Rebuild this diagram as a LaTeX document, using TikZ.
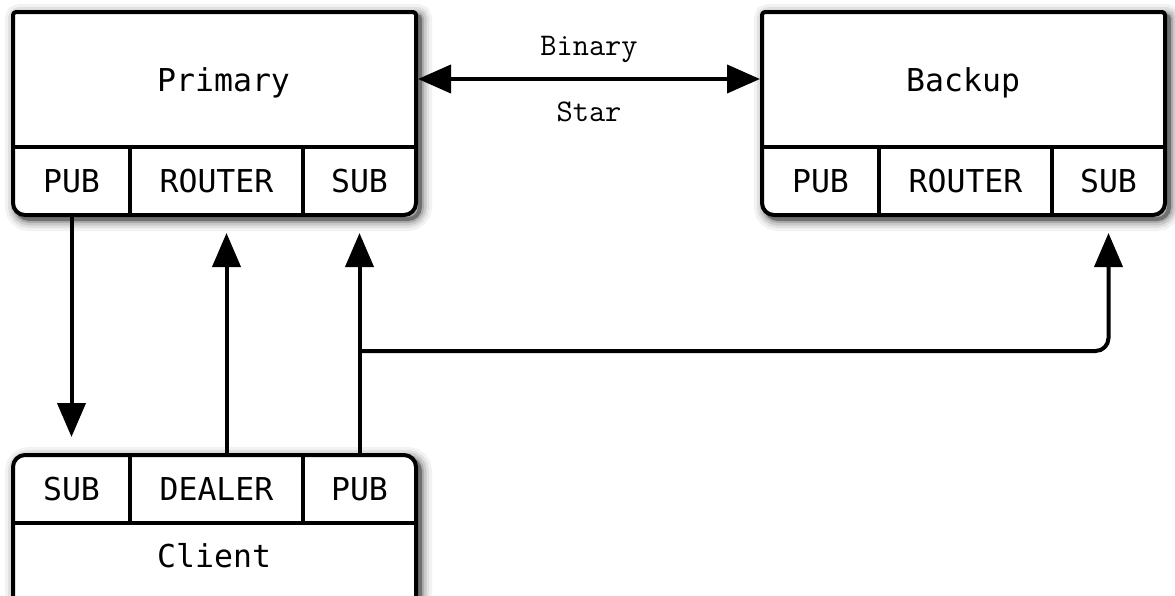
\documentclass[tikz,border=0pt]{standalone}
\usepackage{fontspec}
\newfontfamily\boxfont{DejaVu Sans Mono}
\usetikzlibrary{arrows.meta}
\begin{document}
\begin{tikzpicture}[x=1pt,y=-1pt,
  cell/.style={inner sep=0pt, outer sep=0pt, font=\boxfont\fontsize{31.5}{36}\selectfont, text height=23pt, text depth=0pt},
  mainlbl/.style={inner sep=0pt, font=\boxfont\fontsize{31.5}{36}\selectfont, text height=23pt, text depth=0pt, anchor=west},
  lbl/.style={inner sep=0pt, font=\ttfamily\fontsize{31.5}{36}\selectfont, text height=18pt, text depth=0pt},
  arr/.style={line width=4pt, -{Triangle[length=34pt,width=28pt]}},
  border/.style={line width=4pt, line join=round}]
\useasboundingbox (0,0) rectangle (1175,595);
\clip (0,0) rectangle (1175,595);
\def\boxpathA{(13,100) [rounded corners=3pt] -- (13,12) -- (416,12) -- (416,100) [rounded corners=12pt] -- (416,215) -- (13,215) -- cycle}
\def\boxpathB{(762,100) [rounded corners=3pt] -- (762,12) -- (1165,12) -- (1165,100) [rounded corners=12pt] -- (1165,215) -- (762,215) -- cycle}
\def\boxpathC{(13,640) [rounded corners=12pt] -- (13,455) -- (416,455) -- (416,640) -- cycle}
% shadows
\foreach \w/\o in {24/0.05,18/0.07,13/0.1,8/0.15,4/0.35}{
  \draw[line width=\w pt, opacity=\o, shift={(4,4)}] \boxpathA;
  \draw[line width=\w pt, opacity=\o, shift={(4,4)}] \boxpathB;
  \draw[line width=\w pt, opacity=\o, shift={(4,4)}] \boxpathC;
}
\fill[white] \boxpathA;
\fill[white] \boxpathB;
\fill[white] \boxpathC;
% Primary
\node[mainlbl] (pmain) at (157,79.5) {Primary};
\node[cell, minimum width=117pt, minimum height=68pt] (ppub) at (71.5,181) {PUB};
\node[cell, minimum width=173pt, minimum height=68pt] (prouter) at (216.5,181) {ROUTER};
\node[cell, minimum width=113pt, minimum height=68pt] (psub) at (359.5,181) {SUB};
% Backup
\node[mainlbl] (bmain) at (906,79.5) {Backup};
\node[cell, minimum width=117pt, minimum height=68pt] (bpub) at (820.5,181) {PUB};
\node[cell, minimum width=173pt, minimum height=68pt] (brouter) at (965.5,181) {ROUTER};
\node[cell, minimum width=113pt, minimum height=68pt] (bsub) at (1108.5,181) {SUB};
% Client
\node[cell, minimum width=117pt, minimum height=68pt] (csub) at (71.5,489) {SUB};
\node[cell, minimum width=173pt, minimum height=68pt] (cdealer) at (216.5,489) {DEALER};
\node[cell, minimum width=113pt, minimum height=68pt] (cpub) at (359.5,489) {PUB};
\node[mainlbl] (cmain) at (157,555.5) {Client};
% outlines
\draw[border] \boxpathA;
\draw[border] \boxpathB;
\draw[border] \boxpathC;
\draw[border] (ppub.north west) -- (psub.north east);
\draw[border] (ppub.north east) -- (ppub.south east);
\draw[border] (prouter.north east) -- (prouter.south east);
\draw[border] (bpub.north west) -- (bsub.north east);
\draw[border] (bpub.north east) -- (bpub.south east);
\draw[border] (brouter.north east) -- (brouter.south east);
\draw[border] (csub.south west) -- (cpub.south east);
\draw[border] (csub.north east) -- (csub.south east);
\draw[border] (cdealer.north east) -- (cdealer.south east);
% connectors
\coordinate (pedge) at (418,79);
\coordinate (bedge) at (760,79);
\draw[line width=4pt, {Triangle[length=33pt,width=28pt]}-{Triangle[length=33pt,width=28pt]}]
  (pedge) -- node[lbl, yshift=33pt] {Binary} node[lbl, yshift=-33.5pt] {Star} (bedge);
\draw[arr, shorten >=18pt] (ppub.south) -- (csub.north);
\draw[arr, shorten >=18pt] ([xshift=10pt]cdealer.north) -- ([xshift=10pt]prouter.south);
\draw[arr, shorten >=18pt] (cpub.north) -- (psub.south);
\coordinate (branch) at (359.5,351);
\draw[arr, rounded corners=13pt, shorten >=18pt] (branch) -| (bsub.south);
\end{tikzpicture}
\end{document}
